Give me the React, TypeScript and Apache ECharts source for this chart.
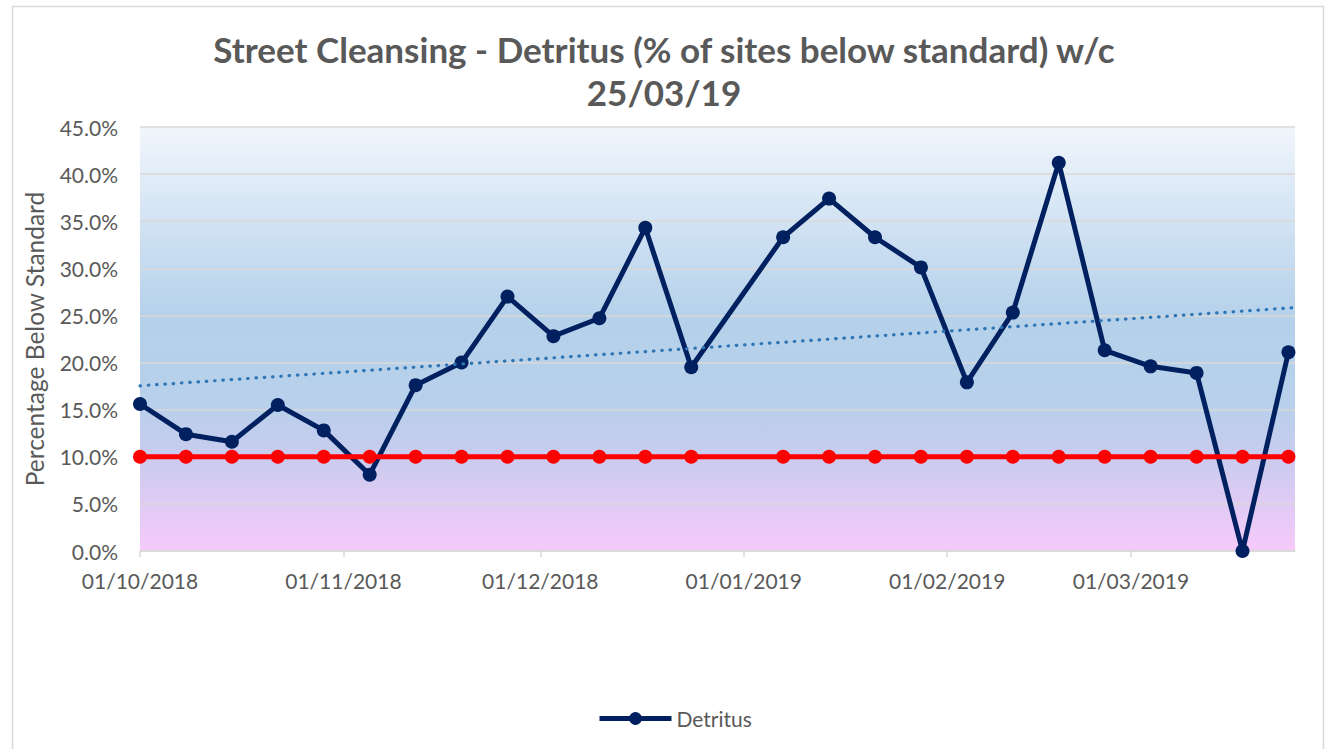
import { useEffect, useRef } from "react";
import * as echarts from "echarts";

const dates = [
  "2018-10-01", "2018-10-08", "2018-10-15", "2018-10-22", "2018-10-29",
  "2018-11-05", "2018-11-12", "2018-11-19", "2018-11-26",
  "2018-12-03", "2018-12-10", "2018-12-17", "2018-12-24",
  "2019-01-07", "2019-01-14", "2019-01-21", "2019-01-28",
  "2019-02-04", "2019-02-11", "2019-02-18", "2019-02-25",
  "2019-03-04", "2019-03-11", "2019-03-18", "2019-03-25",
];
const detritus = [
  15.6, 12.4, 11.6, 15.5, 12.8,
  8.1, 17.6, 20.0, 27.0,
  22.8, 24.7, 34.3, 19.5,
  33.3, 37.4, 33.3, 30.1,
  17.9, 25.3, 41.2, 21.3,
  19.6, 18.9, 0.0, 21.1,
];
const standard = [
  10, 10, 10, 10, 10,
  10, 10, 10, 10,
  10, 10, 10, 10,
  10, 10, 10, 10,
  10, 10, 10, 10,
  10, 10, 10, 10,
];
const monthTicks = ["2018-10-01", "2018-11-01", "2018-12-01", "2019-01-01", "2019-02-01", "2019-03-01"];
const axisStart = "2018-10-01";
const axisEnd = "2019-03-26";
const yMin = 0;
const yMax = 45;
const yStep = 5;

const titleText = "Street Cleansing - Detritus (% of sites below standard) w/c\n25/03/19";
const yName = "Percentage Below Standard";
const seriesName = "Detritus";

const DAY = 86400000;
const ts = (s: string) => {
  const [y, m, d] = s.split("-").map(Number);
  return Date.UTC(y, m - 1, d);
};
const pad = (n: number) => (n < 10 ? "0" + n : "" + n);
const fmtDate = (v: number) => {
  const d = new Date(v);
  return `${pad(d.getUTCDate())}/${pad(d.getUTCMonth() + 1)}/${d.getUTCFullYear()}`;
};

export default function App() {
  const ref = useRef<HTMLDivElement>(null);
  useEffect(() => {
    if (!ref.current) return;
    const chart = echarts.init(ref.current, null, { renderer: "svg" });

    // linear trendline (least squares on date)
    const xs = dates.map((d) => ts(d) / DAY);
    const n = xs.length;
    const mx = xs.reduce((a, b) => a + b, 0) / n;
    const my = detritus.reduce((a, b) => a + b, 0) / n;
    let sxy = 0, sxx = 0;
    for (let i = 0; i < n; i++) {
      sxy += (xs[i] - mx) * (detritus[i] - my);
      sxx += (xs[i] - mx) * (xs[i] - mx);
    }
    const slope = sxy / sxx;
    const inter = my - slope * mx;
    const t0 = ts(axisStart), t1 = ts(axisEnd);
    const trend = [
      [t0, inter + slope * (t0 / DAY)],
      [t1, inter + slope * (t1 / DAY)],
    ];
    const tickVals = monthTicks.map(ts);

    const font = "Lato, 'Noto Sans', sans-serif";
    const txt = "#595959";

    chart.setOption({
      animation: false,
      textStyle: { fontFamily: font },
      title: {
        text: titleText,
        left: "center",
        top: 22,
        textStyle: {
          fontFamily: font,
          fontSize: 35,
          fontWeight: "bold",
          color: txt,
          lineHeight: 43,
        },
      },
      graphic: [
        {
          type: "rect",
          shape: { x: 12.5, y: 6.5, width: 1311, height: 800 },
          style: { fill: "none", stroke: "#d9d9d9", lineWidth: 1.5 },
          silent: true,
        },
      ],
      legend: {
        data: [seriesName],
        left: 592,
        top: 703,
        itemWidth: 72,
        itemHeight: 16,
        itemGap: 6,
        lineStyle: { width: 5 },
        textStyle: { fontFamily: font, fontSize: 21, color: txt },
      },
      grid: {
        left: 140,
        right: 33,
        top: 127,
        bottom: 198,
        show: true,
        borderWidth: 0,
        backgroundColor: new echarts.graphic.LinearGradient(0, 0, 0, 1, [
          { offset: 0, color: "#f1f6fc" },
          { offset: 0.28, color: "#cadef1" },
          { offset: 0.45, color: "#b5d1ea" },
          { offset: 0.66, color: "#b8d0eb" },
          { offset: 0.78, color: "#cacbee" },
          { offset: 1, color: "#f6cafa" },
        ]),
      },
      xAxis: {
        type: "value",
        min: t0,
        max: t1,
        axisLine: { show: true, lineStyle: { color: "#d9d9d9", width: 1.5 } },
        axisTick: {
          show: true,
          length: 6,
          customValues: tickVals,
          lineStyle: { color: "#d9d9d9", width: 1.5 },
        },
        splitLine: { show: false },
        axisLabel: {
          customValues: tickVals,
          formatter: (v: number) => fmtDate(v),
          fontFamily: font,
          fontSize: 21,
          color: txt,
          margin: 19,
        },
      },
      yAxis: {
        type: "value",
        min: yMin,
        max: yMax,
        interval: yStep,
        name: yName,
        nameLocation: "middle",
        nameGap: 93,
        nameTextStyle: { fontFamily: font, fontSize: 24.5, color: txt },
        axisLine: { show: false },
        axisTick: { show: false },
        splitLine: { show: true, lineStyle: { color: "#d9d9d9", width: 1.5 } },
        axisLabel: {
          formatter: (v: number) => v.toFixed(1) + "%",
          fontFamily: font,
          fontSize: 21,
          color: txt,
          margin: 22,
        },
      },
      series: [
        {
          name: seriesName,
          type: "line",
          data: dates.map((d, i) => [ts(d), detritus[i]]),
          symbol: "circle",
          symbolSize: 14,
          itemStyle: { color: "#002060" },
          lineStyle: { color: "#002060", width: 5 },
          z: 3,
        },
        {
          name: "Standard",
          type: "line",
          data: dates.map((d, i) => [ts(d), standard[i]]),
          symbol: "circle",
          symbolSize: 14,
          itemStyle: { color: "#ff0000" },
          lineStyle: { color: "#ff0000", width: 5 },
          z: 4,
        },
        {
          name: "Trend",
          type: "line",
          data: trend,
          symbol: "none",
          lineStyle: { color: "#2e75b6", width: 3.2, type: [0.5, 7.8], cap: "round" },
          z: 5,
          silent: true,
        },
      ],
    });
    return () => chart.dispose();
  }, []);
  return (
    <div
      ref={ref}
      style={{ position: "absolute", left: 0, top: 0, width: 1328, height: 749, background: "#ffffff" }}
    />
  );
}
